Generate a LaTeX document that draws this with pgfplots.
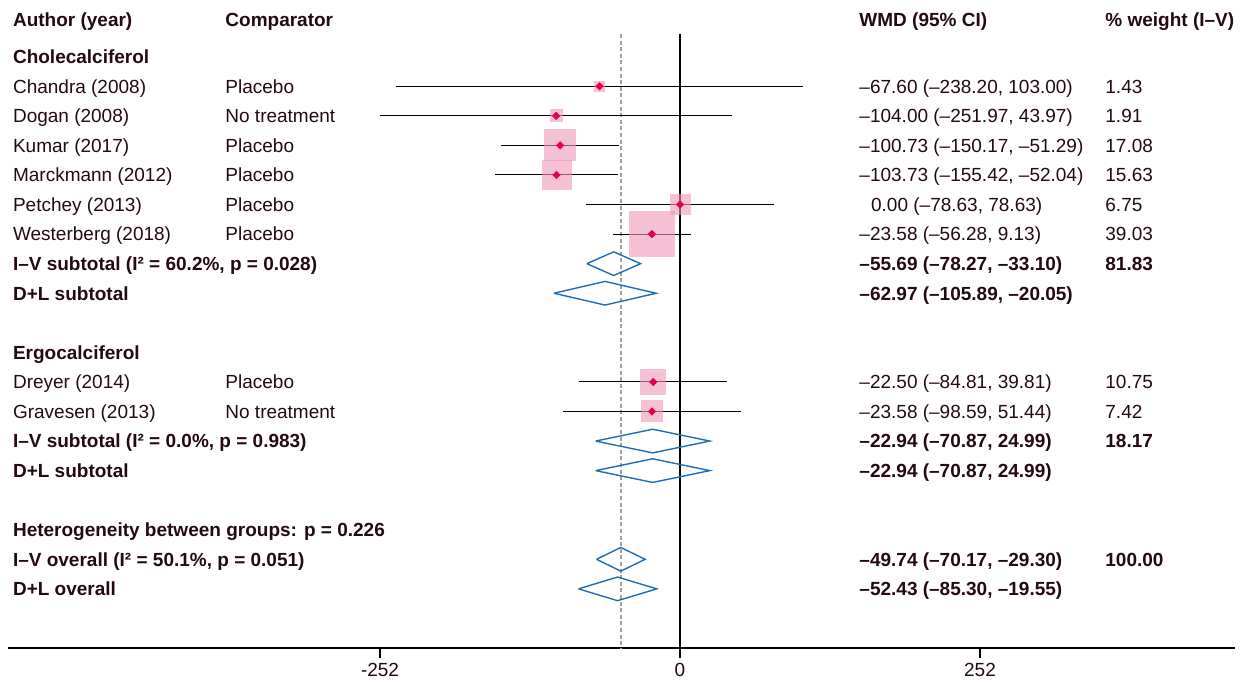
\documentclass[border=0pt]{standalone}
\usepackage{fontspec}
\setmainfont{Liberation Sans}
\usepackage{pgfplots}
\pgfplotsset{compat=1.18}
\usepackage{pgfplotstable}

\definecolor{textc}{RGB}{35,10,15}
\definecolor{boxpink}{RGB}{240,150,185}
\definecolor{ptred}{RGB}{228,0,80}
\definecolor{diablue}{RGB}{30,110,180}
\definecolor{refgray}{RGB}{160,160,160}

% y = -row, est, lower, upper, half box size (pt)
\pgfplotstableread{
y    est      lo       hi      size
-2   -67.60   -238.20  103.00  2.75
-3   -104.00  -251.97  43.97   3.25
-4   -100.73  -150.17  -51.29  8.0
-5   -103.73  -155.42  -52.04  7.5
-6   0.00     -78.63   78.63   5.25
-7   -23.58   -56.28   9.13    11.5
-12  -22.50   -84.81   39.81   6.5
-13  -23.58   -98.59   51.44   5.5
}\studies

% pooled diamonds, one polygon per block
\pgfplotstableread{
x        y
-78.27   -8
-55.69   -7.6
-33.10   -8
-55.69   -8.4
-78.27   -8
nan      nan
-105.89  -9
-62.97   -8.6
-20.05   -9
-62.97   -9.4
-105.89  -9
nan      nan
-70.87   -14
-22.94   -13.6
24.99    -14
-22.94   -14.4
-70.87   -14
nan      nan
-70.87   -15
-22.94   -14.6
24.99    -15
-22.94   -15.4
-70.87   -15
nan      nan
-70.17   -18
-49.74   -17.6
-29.30   -18
-49.74   -18.4
-70.17   -18
nan      nan
-85.30   -19
-52.43   -18.6
-19.55   -19
-52.43   -19.4
-85.30   -19
}\pooled

\begin{document}
\begin{tikzpicture}[
  lbl/.style={anchor=base west, inner sep=0pt, yshift=-3.4pt,
    font=\fontsize{9.5}{11}\selectfont, text=textc},
  blbl/.style={lbl, font=\fontsize{9.5}{11}\selectfont\bfseries}]
\begin{axis}[
  scale only axis,
  width=613.5pt, height=324pt,
  xmin=-564.5, xmax=466.2,
  ymin=-21, ymax=0.92,
  clip=false,
  axis x line*=bottom,
  axis y line=none,
  axis line style={line width=1pt, black},
  xtick={-252,0,252},
  xticklabels={-252,0,252},
  tick align=outside,
  major tick length=5pt,
  xtick style={line width=1pt, black},
  xticklabel style={font=\fontsize{9.5}{11}\selectfont, text=textc, yshift=1pt},
  unbounded coords=jump,
]
% reference lines
\addplot[refgray, line width=0.7pt, dash pattern=on 2pt off 1.3pt] coordinates {(-49.74,-0.23) (-49.74,-21)};
\addplot[black, line width=1pt] coordinates {(0,-0.23) (0,-21)};

% weight boxes
\addplot[scatter, only marks, mark=square*,
  scatter/use mapped color={draw opacity=0, fill=boxpink},
  mark options={draw=none, fill=boxpink, fill opacity=0.6},
  visualization depends on={\thisrow{size} \as \boxsz},
  scatter/@pre marker code/.append style={/tikz/mark size=\boxsz}]
  table[x=est, y=y] {\studies};

% confidence intervals
\addplot[draw=none, mark=none,
  error bars/.cd, x dir=both, x explicit, error mark=none,
  error bar style={line width=0.5pt, black, solid}]
  table[x=est, y=y,
    x error minus expr=\thisrow{est}-\thisrow{lo},
    x error plus expr=\thisrow{hi}-\thisrow{est}] {\studies};

% point estimates
\addplot[ptred, only marks, mark=square*, mark size=1.3pt,
  mark options={solid, rotate=45, draw=ptred, fill=ptred, line width=0.3pt}]
  table[x=est, y=y] {\studies};

% pooled estimates
\addplot[diablue, line width=0.7pt, mark=none] table[x=x, y=y] {\pooled};

% header
\node[blbl] at (axis cs:-560.6,0.27) {Author (year)};
\node[blbl] at (axis cs:-382.2,0.27) {Comparator};
\node[blbl] at (axis cs:150.4,0.27) {WMD (95\% CI)};
\node[blbl] at (axis cs:357.0,0.27) {\% weight (I–V)};

% first group
\node[blbl] at (axis cs:-560.6,-1) {Cholecalciferol};
\node[lbl] at (axis cs:-560.6,-2) {Chandra (2008)};
\node[lbl] at (axis cs:-560.6,-3) {Dogan (2008)};
\node[lbl] at (axis cs:-560.6,-4) {Kumar (2017)};
\node[lbl] at (axis cs:-560.6,-5) {Marckmann (2012)};
\node[lbl] at (axis cs:-560.6,-6) {Petchey (2013)};
\node[lbl] at (axis cs:-560.6,-7) {Westerberg (2018)};
\node[blbl] at (axis cs:-560.6,-8) {I–V subtotal (I² = 60.2\%, p = 0.028)};
\node[blbl] at (axis cs:-560.6,-9) {D+L subtotal};

\node[lbl] at (axis cs:-382.2,-2) {Placebo};
\node[lbl] at (axis cs:-382.2,-3) {No treatment};
\node[lbl] at (axis cs:-382.2,-4) {Placebo};
\node[lbl] at (axis cs:-382.2,-5) {Placebo};
\node[lbl] at (axis cs:-382.2,-6) {Placebo};
\node[lbl] at (axis cs:-382.2,-7) {Placebo};

\node[lbl] at (axis cs:150.4,-2) {–67.60 (–238.20, 103.00)};
\node[lbl] at (axis cs:150.4,-3) {–104.00 (–251.97, 43.97)};
\node[lbl] at (axis cs:150.4,-4) {–100.73 (–150.17, –51.29)};
\node[lbl] at (axis cs:150.4,-5) {–103.73 (–155.42, –52.04)};
\node[lbl] at (axis cs:160.2,-6) {0.00 (–78.63, 78.63)};
\node[lbl] at (axis cs:150.4,-7) {–23.58 (–56.28, 9.13)};
\node[blbl] at (axis cs:150.4,-8) {–55.69 (–78.27, –33.10)};
\node[blbl] at (axis cs:150.4,-9) {–62.97 (–105.89, –20.05)};

\node[lbl] at (axis cs:357.0,-2) {1.43};
\node[lbl] at (axis cs:357.0,-3) {1.91};
\node[lbl] at (axis cs:357.0,-4) {17.08};
\node[lbl] at (axis cs:357.0,-5) {15.63};
\node[lbl] at (axis cs:357.0,-6) {6.75};
\node[lbl] at (axis cs:357.0,-7) {39.03};
\node[blbl] at (axis cs:357.0,-8) {81.83};

% second group
\node[blbl] at (axis cs:-560.6,-11) {Ergocalciferol};
\node[lbl] at (axis cs:-560.6,-12) {Dreyer (2014)};
\node[lbl] at (axis cs:-560.6,-13) {Gravesen (2013)};
\node[blbl] at (axis cs:-560.6,-14) {I–V subtotal (I² = 0.0\%, p = 0.983)};
\node[blbl] at (axis cs:-560.6,-15) {D+L subtotal};

\node[lbl] at (axis cs:-382.2,-12) {Placebo};
\node[lbl] at (axis cs:-382.2,-13) {No treatment};

\node[lbl] at (axis cs:150.4,-12) {–22.50 (–84.81, 39.81)};
\node[lbl] at (axis cs:150.4,-13) {–23.58 (–98.59, 51.44)};
\node[blbl] at (axis cs:150.4,-14) {–22.94 (–70.87, 24.99)};
\node[blbl] at (axis cs:150.4,-15) {–22.94 (–70.87, 24.99)};

\node[lbl] at (axis cs:357.0,-12) {10.75};
\node[lbl] at (axis cs:357.0,-13) {7.42};
\node[blbl] at (axis cs:357.0,-14) {18.17};

% overall
\node[blbl] at (axis cs:-560.6,-17) {Heterogeneity between groups: p = 0.226};
\node[blbl] at (axis cs:-560.6,-18) {I–V overall (I² = 50.1\%, p = 0.051)};
\node[blbl] at (axis cs:-560.6,-19) {D+L overall};
\node[blbl] at (axis cs:150.4,-18) {–49.74 (–70.17, –29.30)};
\node[blbl] at (axis cs:150.4,-19) {–52.43 (–85.30, –19.55)};
\node[blbl] at (axis cs:357.0,-18) {100.00};
\end{axis}
\pgfresetboundingbox
\path ([shift={(-4pt,-18pt)}]current axis.south west) rectangle ([shift={(4pt,0pt)}]current axis.north east);
\end{tikzpicture}
\end{document}
